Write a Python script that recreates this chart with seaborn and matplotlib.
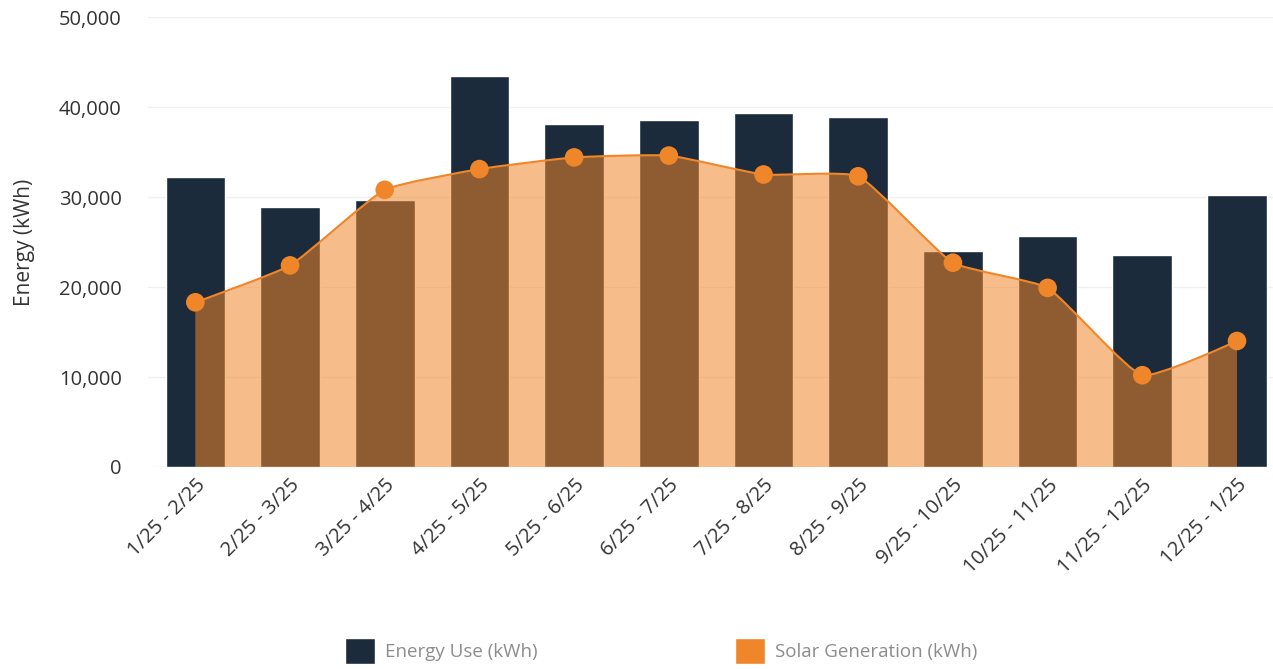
import numpy as np
import pandas as pd
import matplotlib
matplotlib.use("Agg")
import matplotlib.pyplot as plt
from matplotlib.path import Path
from matplotlib.patches import PathPatch, Patch
import seaborn as sns

# Billing periods and monthly energy figures (kWh)
periods = ["1/25 - 2/25", "2/25 - 3/25", "3/25 - 4/25", "4/25 - 5/25",
           "5/25 - 6/25", "6/25 - 7/25", "7/25 - 8/25", "8/25 - 9/25",
           "9/25 - 10/25", "10/25 - 11/25", "11/25 - 12/25", "12/25 - 1/25"]
energy_use = [32200, 28900, 29700, 43400, 38100, 38600,
              39300, 38900, 24000, 25700, 23600, 30200]
solar_generation = [18300, 22400, 30800, 33100, 34400, 34600,
                    32500, 32300, 22700, 19900, 10200, 14000]
y_ticks = [0, 10000, 20000, 30000, 40000, 50000]

NAVY = "#1b2b3c"
ORANGE = "#f0862a"
TEXT = "#333333"

sns.set_theme(style="white")
plt.rcParams["font.family"] = ["Open Sans", "DejaVu Sans"]

fig = plt.figure(figsize=(12.73, 6.69), dpi=100)
ax = fig.add_axes([148 / 1273, 1 - 467 / 669, 1 - 148 / 1273, 450 / 669])

df = pd.DataFrame({"period": periods, "use": energy_use, "solar": solar_generation})

# Energy use bars
sns.barplot(data=df, x="period", y="use", color=NAVY, width=0.63,
            saturation=1, ax=ax, zorder=2)

# Gently smoothed solar curve (cubic Bezier segments through each monthly value)
xs = np.arange(len(periods), dtype=float)
ys = np.array(solar_generation, dtype=float)
x_px, y_px = 94.7, 9.0 / 1000.0       # screen scale per unit, used for tension
tension = 0.15
verts = [(xs[0], ys[0])]
codes = [Path.MOVETO]
cps = []
for i in range(len(xs)):
    if i == 0 or i == len(xs) - 1:
        cps.append(((xs[i], ys[i]), (xs[i], ys[i])))
        continue
    d01 = np.hypot((xs[i] - xs[i - 1]) * x_px, (ys[i] - ys[i - 1]) * y_px)
    d12 = np.hypot((xs[i + 1] - xs[i]) * x_px, (ys[i + 1] - ys[i]) * y_px)
    fa = tension * d01 / (d01 + d12)
    fb = tension * d12 / (d01 + d12)
    dx, dy = xs[i + 1] - xs[i - 1], ys[i + 1] - ys[i - 1]
    cps.append(((xs[i] - fa * dx, ys[i] - fa * dy), (xs[i] + fb * dx, ys[i] + fb * dy)))
for i in range(1, len(xs)):
    verts += [cps[i - 1][1], cps[i][0], (xs[i], ys[i])]
    codes += [Path.CURVE4] * 3
line_path = Path(verts, codes)

fill_verts = verts + [(xs[-1], 0), (xs[0], 0), (xs[0], ys[0])]
fill_codes = codes + [Path.LINETO, Path.LINETO, Path.CLOSEPOLY]
ax.add_patch(PathPatch(Path(fill_verts, fill_codes), facecolor=ORANGE,
                       edgecolor="none", alpha=0.55, zorder=3))
ax.add_patch(PathPatch(line_path, facecolor="none", edgecolor=ORANGE,
                       lw=1.5, zorder=4))
sns.scatterplot(x=xs, y=ys, color=ORANGE, s=180, edgecolor="none",
                ax=ax, zorder=5, legend=False)

ax.set_xlim(-0.5, 11.38)
ax.set_ylim(0, 50000)
ax.set_yticks(y_ticks)
ax.set_yticklabels([f"{v:,}" for v in y_ticks], fontsize=14.5, color=TEXT)
ax.set_xticks(xs)
ax.set_xticklabels(periods, rotation=45, ha="right", rotation_mode="anchor",
                   fontsize=14.5, color=TEXT)
ax.tick_params(axis="x", length=0, pad=6)
ax.tick_params(axis="y", length=0, pad=19)
ax.set_xlabel("")
ax.set_ylabel("Energy (kWh)", fontsize=15, color=TEXT, labelpad=17)
ax.yaxis.grid(True, color="#f0f0f0", lw=1)
ax.set_axisbelow(True)
for s in ax.spines.values():
    s.set_visible(False)

handles = [Patch(facecolor=NAVY, label="Energy Use (kWh)"),
           Patch(facecolor=ORANGE, label="Solar Generation (kWh)")]
fig.legend(handles=handles, loc="lower left", bbox_to_anchor=(328 / 1273, -0.018),
           ncol=2, frameon=False, fontsize=13.5, labelcolor="#8c8c8c",
           handlelength=1.6, handleheight=1.8, columnspacing=10.5, handletextpad=0.55)

fig.savefig("out.png", dpi=100)
